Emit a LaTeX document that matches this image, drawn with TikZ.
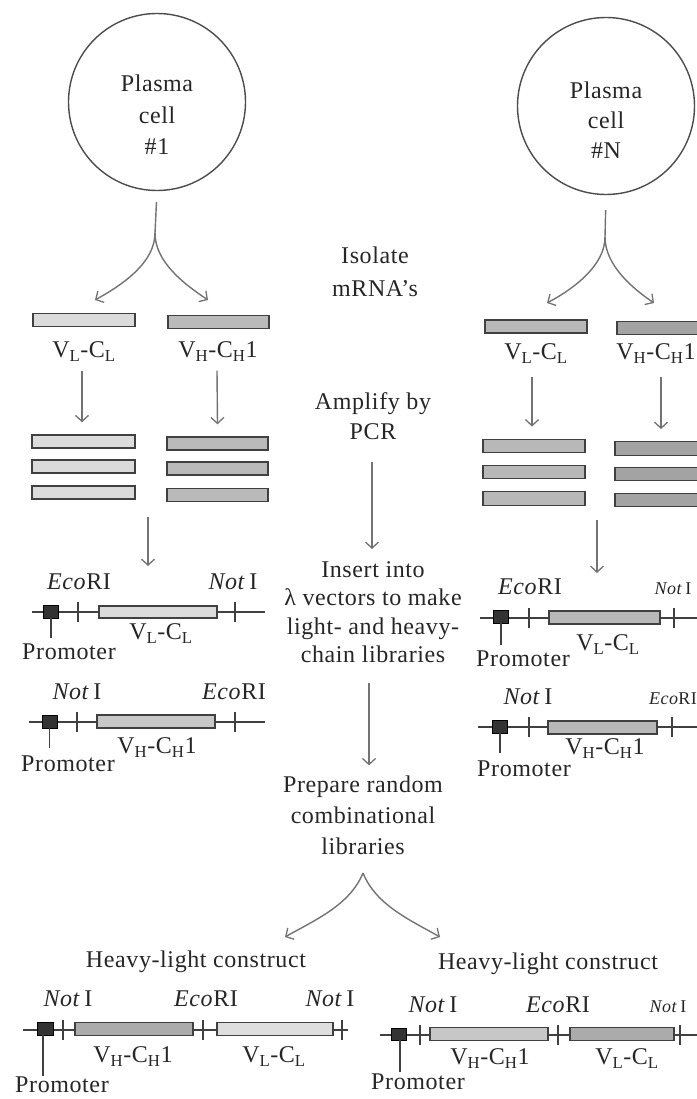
\documentclass[tikz,border=0pt]{standalone}
\usepackage{fontspec}
\setmainfont{Liberation Serif}[LetterSpace=2.5]
\usetikzlibrary{arrows.meta}
\newcommand\myVL{V\textsubscript{L}-C\textsubscript{L}}
\newcommand\myVH{V\textsubscript{H}-C\textsubscript{H}1}
\newcommand\myNot{\textit{Not}\,I}
\newcommand\myEco{\textit{Eco}RI}
\begin{document}
\begin{tikzpicture}[x=1pt,y=-1pt,
  txt/.style={inner sep=0pt, align=center, text=black!85},
  lab/.style={inner sep=0pt, text=black!85, font=\fontsize{24}{28}\selectfont, text height=15pt, text depth=4pt},
  sml/.style={lab, font=\fontsize{18}{22}\selectfont, text height=12pt, text depth=3pt},
  cell/.style={circle, draw=black!70, line width=1.4pt, minimum size=177pt, inner sep=0pt},
  arr/.style={draw=black!55, line width=1.4pt, -{Straight Barb[length=6pt,width=13pt,line width=1.3pt]}},
  stemline/.style={draw=black!55, line width=1.4pt},
  bar/.style={draw=black!75, line width=1.4pt, inner sep=0pt, minimum height=12.5pt},
  prom/.style={draw=black, fill=black!80, inner sep=0pt, minimum width=15pt, minimum height=13pt},
  dna/.style={draw=black!75, line width=1.3pt},
]
\fill[white] (0,0) rectangle (696,1099);
\useasboundingbox (0,0) rectangle (696,1099);

% ---------- plasma cells ----------
\node[cell] (c1) at (157,102) {};
\node[txt, font=\fontsize{24}{31.5}\selectfont] (c1t) at (157,115) {Plasma\\cell\\\#1};
\node[cell] (cN) at (606,106) {};
\node[txt, font=\fontsize{24}{30}\selectfont] (cNt) at (606,120) {Plasma\\cell\\\#N};

% ---------- forks from cells ----------
\coordinate (f1) at (155,233);
\coordinate (f1l) at (95,300);
\coordinate (f1r) at (208,300);
\draw[stemline, shorten <=11pt] (c1.south) -- (f1);
\draw[arr] (f1) .. controls (155,262) and (124,284) .. (f1l);
\draw[arr] (f1) .. controls (155,262) and (184,284) .. (f1r);

\coordinate (fN) at (605,237);
\coordinate (fNl) at (547,303);
\coordinate (fNr) at (654,303);
\draw[stemline, shorten <=15pt] (cN.south) -- (fN);
\draw[arr] (fN) .. controls (605,265) and (575,288) .. (fNl);
\draw[arr] (fN) .. controls (605,265) and (632,288) .. (fNr);

% ---------- central column ----------
\node[txt, font=\fontsize{24}{33}\selectfont] (iso) at (375,272) {Isolate\\mRNA's};
\node[txt, font=\fontsize{24}{30}\selectfont] (amp) at (373,416) {Amplify by\\PCR};
\node[txt, font=\fontsize{24}{28.5}\selectfont] (ins) at (373,612) {Insert into\\λ vectors to make\\light- and heavy-\\chain libraries};
\node[txt, font=\fontsize{24}{31}\selectfont] (prep) at (363,815) {Prepare random\\combinational\\libraries};
\draw[arr] ([xshift=-1pt,yshift=-22pt]amp.south) -- ([xshift=-1pt,yshift=12pt]ins.north);
\draw[arr] ([xshift=-4pt,yshift=-20pt]ins.south) -- ([xshift=6pt,yshift=10pt]prep.north);

\coordinate (f3) at (363,873);
\coordinate (f3l) at (285,937);
\coordinate (f3r) at (440,937);
\draw[arr] (f3) .. controls (350,905) and (315,920) .. (f3l);
\draw[arr] (f3) .. controls (376,905) and (410,920) .. (f3r);

% ---------- cell #1 mRNA bars ----------
\node[bar, fill=black!14, minimum width=102pt] (l1) at (84,320) {};
\node[bar, fill=black!27, minimum width=101pt, minimum height=13pt] (h1) at (218.5,322) {};
\node[lab] (vl1) at (84,352) {\myVL};
\node[lab] (vh1) at (218,352) {\myVH};
\node[bar, fill=black!14, minimum width=103pt, minimum height=13pt] (s1a) at (83.5,441.5) {};
\node[bar, fill=black!14, minimum width=103pt, minimum height=13pt] (s1b) at (83.5,466.5) {};
\node[bar, fill=black!14, minimum width=103pt, minimum height=13pt] (s1c) at (83.5,492.5) {};
\node[bar, fill=black!27, minimum width=101pt, minimum height=13pt] (s2a) at (217.5,443.5) {};
\node[bar, fill=black!27, minimum width=101pt, minimum height=13pt] (s2b) at (217.5,468.5) {};
\node[bar, fill=black!27, minimum width=101pt, minimum height=13pt] (s2c) at (217.5,495) {};
\draw[arr] ([xshift=-2pt,yshift=-9pt]vl1.south) -- ([xshift=-1.5pt,yshift=12pt]s1a.north);
\draw[arr] ([xshift=-1pt,yshift=-9pt]vh1.south) -- ([yshift=12pt]s2a.north);
\coordinate (d1s) at (148,517);
\coordinate (d1e) at (148,566);
\draw[arr] (d1s) -- (d1e);

% ---------- cell #N mRNA bars ----------
\node[bar, fill=black!28, minimum width=102pt, minimum height=13pt] (lN) at (536,326.5) {};
\node[bar, fill=black!36, minimum width=101pt, minimum height=13pt] (hN) at (667.5,328) {};
\node[lab] (vlN) at (536,354) {\myVL};
\node[lab] (vhN) at (656,354) {\myVH};
\node[bar, fill=black!28, minimum width=102pt, minimum height=13.5pt] (s3a) at (534,446) {};
\node[bar, fill=black!28, minimum width=102pt, minimum height=13.5pt] (s3b) at (534,472) {};
\node[bar, fill=black!28, minimum width=102pt, minimum height=13.5pt] (s3c) at (534,498.5) {};
\node[bar, fill=black!36, minimum width=101pt, minimum height=13.5pt] (s4a) at (665.5,448.5) {};
\node[bar, fill=black!36, minimum width=101pt, minimum height=13.5pt] (s4b) at (665.5,474) {};
\node[bar, fill=black!36, minimum width=101pt, minimum height=13.5pt] (s4c) at (665.5,500) {};
\draw[arr] ([xshift=-4pt,yshift=-13pt]vlN.south) -- ([xshift=-2pt,yshift=12pt]s3a.north);
\draw[arr] ([xshift=5pt,yshift=-13pt]vhN.south) -- ([xshift=-4.5pt,yshift=12pt]s4a.north);
\coordinate (d2s) at (597,520);
\coordinate (d2e) at (597,573);
\draw[arr] (d2s) -- (d2e);

% ---------- left vector: light chain ----------
\draw[dna] (32,612) -- (265,612);
\draw[dna] (78,602) -- (78,622);
\draw[dna] (235,602) -- (235,622);
\node[bar, fill=black!14, minimum width=118pt, minimum height=12pt] (vA1) at (158,612) {};
\node[prom] (pA1) at (51,611.5) {};
\draw[dna] (pA1.south) -- (51,638);
\node[lab] (prA1) at (69,654) {Promoter};
\node[lab] (eA1) at (79,584) {\myEco};
\node[lab] (nA1) at (233,584) {\myNot};
\node[lab] (lA1) at (161,634) {\myVL};

% ---------- left vector: heavy chain ----------
\draw[dna] (29,722) -- (265,722);
\draw[dna] (77,712) -- (77,732);
\draw[dna] (235,712) -- (235,732);
\node[bar, fill=black!22, minimum width=118pt, minimum height=13pt] (vB1) at (156,721.5) {};
\node[prom] (pB1) at (49.5,721.5) {};
\draw[dna] (pB1.south) -- (49.5,748);
\node[lab] (prB1) at (68,766) {Promoter};
\node[lab] (nB1) at (77,694) {\myNot};
\node[lab] (eB1) at (234,694) {\myEco};
\node[lab] (hB1) at (157,748) {\myVH};

% ---------- right vector: light chain ----------
\draw[dna] (480,618) -- (700,618);
\draw[dna] (529,608) -- (529,628);
\draw[dna] (674,608) -- (674,628);
\node[bar, fill=black!28, minimum width=111pt, minimum height=13pt] (vA2) at (604.5,617.5) {};
\node[prom] (pA2) at (501,616.5) {};
\draw[dna] (pA2.south) -- (501,645);
\node[lab] (prA2) at (523,661) {Promoter};
\node[lab] (eA2) at (530,589) {\myEco};
\node[sml] (nA2) at (673,590) {\myNot};
\node[lab] (lA2) at (608,645) {\myVL};

% ---------- right vector: heavy chain ----------
\draw[dna] (478,727) -- (700,727);
\draw[dna] (529,717) -- (529,737);
\draw[dna] (672,717) -- (672,737);
\node[bar, fill=black!28, minimum width=109pt, minimum height=13pt] (vB2) at (602.5,727.5) {};
\node[prom] (pB2) at (500,726.5) {};
\draw[dna] (pB2.south) -- (500,753);
\node[lab] (prB2) at (524,771) {Promoter};
\node[lab] (nB2) at (528,699) {\myNot};
\node[sml] (eB2) at (673,700) {\myEco};
\node[lab] (hB2) at (605,749) {\myVH};

% ---------- bottom left construct ----------
\node[lab] (hl1) at (196,962) {Heavy-light construct};
\draw[dna] (23,1030) -- (348,1030);
\draw[dna] (63,1020) -- (63,1040);
\draw[dna] (203,1020) -- (203,1040);
\draw[dna] (342,1020) -- (342,1040);
\node[bar, fill=black!33, minimum width=118pt, minimum height=12.5pt] (bh1) at (134,1029) {};
\node[bar, fill=black!13, minimum width=116pt, minimum height=12.5pt] (bl1) at (275,1029) {};
\node[prom, minimum width=16pt] (pC1) at (45,1028.5) {};
\draw[dna] (43,1035) -- (43,1076);
\node[lab] (prC1) at (62,1087) {Promoter};
\node[lab] (nC1) at (68,1001) {\myNot};
\node[lab] (eC1) at (206,1001) {\myEco};
\node[lab] (nC2) at (330,1001) {\myNot};
\node[lab] (hC1) at (133,1057) {\myVH};
\node[lab] (lC1) at (274,1057) {\myVL};

% ---------- bottom right construct ----------
\node[lab] (hl2) at (548,964) {Heavy-light construct};
\draw[dna] (380,1035) -- (700,1035);
\draw[dna] (420,1025) -- (420,1045);
\draw[dna] (558,1025) -- (558,1045);
\draw[dna] (680,1025) -- (680,1045);
\node[bar, fill=black!22, minimum width=118pt, minimum height=12.5pt] (bh2) at (489,1034) {};
\node[bar, fill=black!33, minimum width=104pt, minimum height=12.5pt] (bl2) at (622,1034) {};
\node[prom, minimum height=12pt] (pC2) at (398.5,1034) {};
\draw[dna] (400,1040) -- (400,1072);
\node[lab] (prC2) at (418,1084) {Promoter};
\node[lab] (nC3) at (433,1007) {\myNot};
\node[lab] (eC2) at (558,1007) {\myEco};
\node[sml] (nC4) at (668,1008) {\myNot};
\node[lab] (hC2) at (490,1059) {\myVH};
\node[lab] (lC2) at (627,1059) {\myVL};
\end{tikzpicture}
\end{document}
